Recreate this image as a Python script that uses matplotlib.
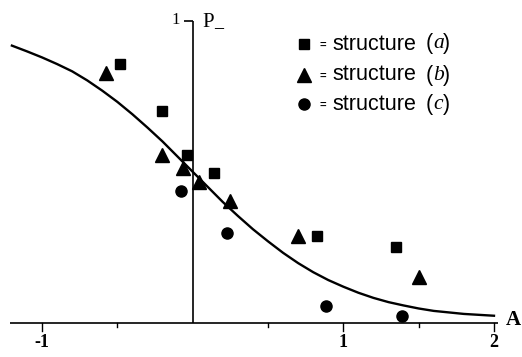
import matplotlib
matplotlib.use("Agg")
import matplotlib.pyplot as plt

# Data
a_x = [-0.482, -0.205, -0.039, 0.143, 0.825, 1.352]
a_y = [0.856, 0.702, 0.555, 0.495, 0.288, 0.250]
b_x = [-0.575, -0.205, -0.061, 0.043, 0.245, 0.697, 1.505]
b_y = [0.825, 0.555, 0.511, 0.467, 0.403, 0.288, 0.153]
c_x = [-0.079, 0.231, 0.885, 1.39]
c_y = [0.437, 0.297, 0.057, 0.023]
curve_x = [-1.2, -1.1, -1.0, -0.9, -0.8, -0.7, -0.6, -0.5, -0.4, -0.3, -0.2,
           -0.1, 0.0, 0.1, 0.2, 0.3, 0.4, 0.5, 0.6, 0.7, 0.8, 0.9, 1.0, 1.1,
           1.2, 1.3, 1.4, 1.5, 1.6, 1.7, 1.8, 1.9, 2.0]
curve_y = [0.917, 0.898, 0.878, 0.856, 0.832, 0.802, 0.768, 0.731, 0.69,
           0.646, 0.60, 0.55, 0.50, 0.45, 0.40, 0.354, 0.31, 0.27, 0.232,
           0.198, 0.168, 0.142, 0.12, 0.10, 0.083, 0.069, 0.058, 0.048,
           0.040, 0.035, 0.030, 0.027, 0.024]
xtick_major = [-1, 1, 2]
xtick_labels = ["-1", "1", "2"]
xtick_minor = [-0.5, 0.5, 1.5]
legend_labels = ["structure", "structure", "structure"]
legend_tags = ["a", "b", "c"]

fig = plt.figure(figsize=(5.22, 3.57), dpi=100)
ax = fig.add_axes([0, 0, 1, 1])
ax.set_xlim(-1.279, 2.186)
ax.set_ylim(-0.1124, 1.0678)
ax.axis("off")

W, H = 522.0, 357.0


def px(x, y):
    return x / W, 1 - y / H


lw_axis = 1.2
# x axis line
ax.plot([-1.21, 2.03], [0, 0], color="black", lw=lw_axis, solid_capstyle="butt")
# y axis line
ax.plot([0, 0], [0, 1], color="black", lw=lw_axis, solid_capstyle="butt")
ax.plot([-0.06, 0], [1, 1], color="black", lw=lw_axis, solid_capstyle="butt")
# ticks
for t in xtick_major:
    ax.plot([t, t], [0, -0.028], color="black", lw=1.0)
for t in xtick_minor:
    ax.plot([t, t], [0, -0.014], color="black", lw=1.0)
serif = ["Liberation Serif", "DejaVu Serif"]
for t, lab in zip(xtick_major, xtick_labels):
    ax.text(t, -0.065, lab, ha="center", va="center", fontsize=13,
            fontweight="bold", family=serif)
ax.text(*px(175.5, 20), "1", transform=ax.transAxes, ha="center", va="center",
        fontsize=12, family=serif)
ax.text(*px(202, 27), "P", transform=ax.transAxes, ha="left", va="baseline",
        fontsize=15, family=serif)
ax.text(*px(214, 27), "_", transform=ax.transAxes, ha="left", va="baseline",
        fontsize=13, family=serif, fontweight="bold")
ax.text(*px(506, 325), "A", transform=ax.transAxes, ha="left", va="baseline",
        fontsize=15, fontweight="bold", family=serif)

# curve
ax.plot(curve_x, curve_y, color="black", lw=1.7)

# data markers
ax.plot(a_x, a_y, ls="none", marker="s", ms=7.5, color="black")
ax.plot(b_x, b_y, ls="none", marker="^", ms=9.5, color="black")
ax.plot(c_x, c_y, ls="none", marker="o", ms=8, color="black")

# legend (manual)
leg_y = [44, 75, 104]
leg_m = ["s", "^", "o"]
leg_ms = [7.5, 9.5, 8]
for yy, m, ms, lab, tag in zip(leg_y, leg_m, leg_ms, legend_labels, legend_tags):
    ax.plot(*px(304, yy), marker=m, ms=ms, color="black",
            transform=ax.transAxes, ls="none")
    ax.text(*px(319, yy + 1), "=", transform=ax.transAxes, fontsize=8,
            ha="left", va="center", family="Liberation Sans", fontweight="bold")
    ax.text(*px(332, yy), lab, transform=ax.transAxes, fontsize=15.5,
            ha="left", va="center", family="Liberation Sans")
    ax.text(*px(426, yy), "(", transform=ax.transAxes, fontsize=15.5,
            ha="left", va="center", family="Liberation Sans")
    ax.text(*px(433, yy), tag, transform=ax.transAxes, fontsize=15.5,
            ha="left", va="center", family="Liberation Serif", style="italic")
    ax.text(*px(443, yy), ")", transform=ax.transAxes, fontsize=15.5,
            ha="left", va="center", family="Liberation Sans")

fig.savefig("out.png", dpi=100)
